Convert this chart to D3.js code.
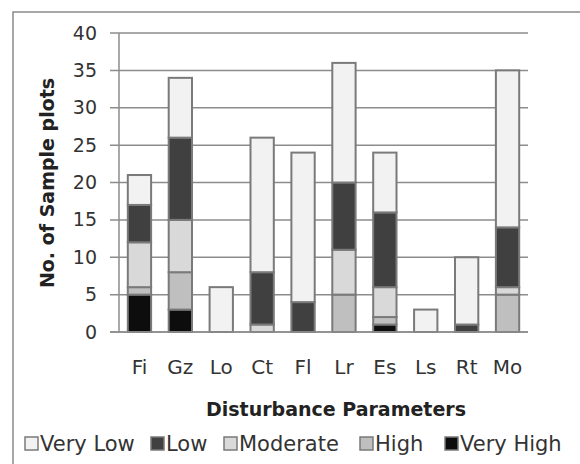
<!DOCTYPE html>
<html><head><meta charset="utf-8">
<script src="https://cdn.jsdelivr.net/npm/d3@7/dist/d3.min.js"></script>
<style>
html,body{margin:0;padding:0;background:#fff;}
svg{display:block;font-family:"DejaVu Sans",sans-serif;}
</style></head>
<body>
<svg id="chart" width="580" height="464"></svg>
<script>
const categories = ["Fi","Gz","Lo","Ct","Fl","Lr","Es","Ls","Rt","Mo"];
const veryHigh = [5,3,0,0,0,0,1,0,0,0];
const high     = [1,5,0,0,0,5,1,0,0,5];
const moderate = [6,7,0,1,0,6,4,0,0,1];
const low      = [5,11,0,7,4,9,10,0,1,8];
const veryLow  = [4,8,6,18,20,16,8,3,9,21];
const yTicks = [0,5,10,15,20,25,30,35,40];
const seriesNames = ["Very High","High","Moderate","Low","Very Low"];
const legendOrder = ["Very Low","Low","Moderate","High","Very High"];

const colors = {"Very Low":"#f2f2f2","Low":"#404040","Moderate":"#d9d9d9","High":"#bfbfbf","Very High":"#0d0d0d"};
const seriesVals = {"Very High":veryHigh,"High":high,"Moderate":moderate,"Low":low,"Very Low":veryLow};

const table = categories.map((c,i)=>{
  const r = {cat:c};
  seriesNames.forEach(s=>r[s]=seriesVals[s][i]);
  return r;
});

const svg = d3.select("#chart");
// chart frame
svg.append("rect").attr("x",13).attr("y",12).attr("width",620).attr("height",520)
  .attr("fill","none").attr("stroke","#8c8c8c").attr("stroke-width",1.5);

const x0 = 119, x1 = 528, yTop = 33, yBot = 332;
const x = d3.scaleBand().domain(categories).range([x0,x1]).paddingInner(0.43).paddingOuter(0.215);
const y = d3.scaleLinear().domain([0,40]).range([yBot,yTop]);

// gridlines
svg.append("g").selectAll("line").data(yTicks).join("line")
  .attr("x1",110).attr("x2",x1).attr("y1",d=>y(d)).attr("y2",d=>y(d))
  .attr("stroke","#8c8c8c").attr("stroke-width",1.5);
// y axis line
svg.append("line").attr("x1",x0).attr("x2",x0).attr("y1",yTop).attr("y2",yBot)
  .attr("stroke","#8c8c8c").attr("stroke-width",1.5);

// y axis labels
const yAxis = svg.append("g").attr("transform","translate(110,0)")
  .call(d3.axisLeft(y).tickValues(yTicks).tickSize(0).tickPadding(13));
yAxis.select(".domain").remove();
yAxis.selectAll("text").attr("font-size",19).attr("fill","#333").attr("font-family","DejaVu Sans");

// x axis labels
const xAxis = svg.append("g").attr("transform",`translate(0,${yBot})`)
  .call(d3.axisBottom(x).tickSize(0).tickPadding(28));
xAxis.select(".domain").remove();
xAxis.selectAll("text").attr("font-size",20).attr("fill","#333").attr("font-family","DejaVu Sans");

// stacked bars
const stack = d3.stack().keys(seriesNames);
const stacked = stack(table);
svg.append("g").selectAll("g").data(stacked).join("g")
  .attr("fill",d=>colors[d.key])
  .selectAll("rect").data(d=>d.filter(v=>v[1]-v[0]>0)).join("rect")
  .attr("x",d=>x(d.data.cat)).attr("width",x.bandwidth())
  .attr("y",d=>y(d[1])).attr("height",d=>y(d[0])-y(d[1]))
  .attr("stroke","#7a7a7a").attr("stroke-width",2);

// x axis line
svg.append("line").attr("x1",110).attr("x2",x1).attr("y1",yBot).attr("y2",yBot)
  .attr("stroke","#8c8c8c").attr("stroke-width",1.5);

// axis titles
svg.append("text").attr("x",336).attr("y",416).attr("text-anchor","middle")
  .attr("font-size",19).attr("font-weight","bold").attr("fill","#222")
  .text("Disturbance Parameters");
svg.append("text").attr("transform","translate(54,183) rotate(-90)").attr("text-anchor","middle")
  .attr("font-size",19).attr("font-weight","bold").attr("fill","#222")
  .text("No. of Sample plots");

// legend
const legX = [25,151,224,360,445];
const leg = svg.append("g").selectAll("g").data(legendOrder).join("g")
  .attr("transform",(d,i)=>`translate(${legX[i]},437)`);
leg.append("rect").attr("width",13).attr("height",13).attr("fill",d=>colors[d])
  .attr("stroke","#7a7a7a").attr("stroke-width",1.5);
leg.append("text").attr("x",15).attr("y",14).attr("font-size",21).attr("fill","#333")
  .text(d=>d);
</script>
</body></html>
